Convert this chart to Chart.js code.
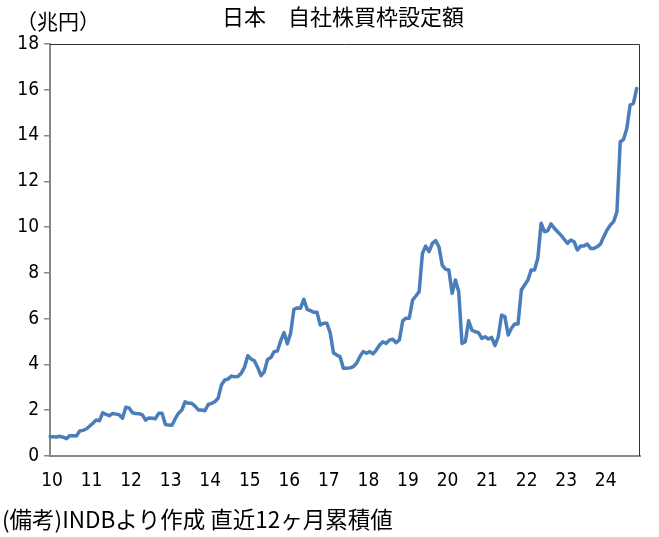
<!DOCTYPE html>
<html>
<head>
<meta charset="utf-8">
<script src="https://cdn.jsdelivr.net/npm/chart.js@4.4.0/dist/chart.umd.min.js"></script>
<style>
  html, body { margin: 0; padding: 0; background: #fff; }
  #wrap { width: 659px; height: 537px; position: relative; }
</style>
</head>
<body>
<div id="wrap"><canvas id="chartBuyback"></canvas></div>
<script>
/* ============================
   日本 自社株買枠設定額 (直近12ヶ月累積, 兆円)
   ============================ */

const titleText = "日本　自社株買枠設定額";
const unitText = "（兆円）";
const noteText = "(備考)INDBより作成 直近12ヶ月累積値";

const years = ["10", "11", "12", "13", "14", "15", "16", "17", "18", "19", "20", "21", "22", "23", "24"];
const yTicks = [0, 2, 4, 6, 8, 10, 12, 14, 16, 18];

// monthly, 2010/1 .. 2024/11
const buyback = [
  0.84, 0.84, 0.83, 0.86, 0.82, 0.76, 0.89, 0.88, 0.87, 1.09, 1.12, 1.18,
  1.30, 1.43, 1.57, 1.54, 1.89, 1.82, 1.76, 1.86, 1.83, 1.80, 1.65, 2.13,
  2.10, 1.89, 1.86, 1.85, 1.80, 1.57, 1.66, 1.65, 1.63, 1.87, 1.87, 1.38,
  1.35, 1.34, 1.63, 1.87, 2.01, 2.37, 2.30, 2.30, 2.18, 2.01, 2.01, 1.98,
  2.25, 2.30, 2.37, 2.52, 3.10, 3.32, 3.36, 3.49, 3.46, 3.47, 3.61, 3.87,
  4.38, 4.24, 4.16, 3.87, 3.51, 3.68, 4.22, 4.30, 4.56, 4.59, 5.04, 5.39,
  4.90, 5.36, 6.41, 6.47, 6.45, 6.85, 6.41, 6.35, 6.28, 6.28, 5.72, 5.80,
  5.80, 5.39, 4.51, 4.41, 4.34, 3.83, 3.83, 3.85, 3.90, 4.05, 4.34, 4.56,
  4.49, 4.56, 4.46, 4.63, 4.85, 4.99, 4.92, 5.07, 5.10, 4.95, 5.07, 5.90,
  6.02, 6.02, 6.81, 6.99, 7.18, 8.86, 9.17, 8.93, 9.29, 9.41, 9.14, 8.34,
  8.16, 8.13, 7.11, 7.69, 7.18, 4.92, 4.99, 5.91, 5.50, 5.43, 5.39, 5.14,
  5.21, 5.11, 5.18, 4.82, 5.21, 6.16, 6.09, 5.29, 5.58, 5.77, 5.77, 7.25,
  7.47, 7.69, 8.13, 8.13, 8.64, 10.17, 9.80, 9.84, 10.14, 9.95, 9.80, 9.65,
  9.47, 9.29, 9.44, 9.36, 9.00, 9.17, 9.17, 9.26, 9.07, 9.07, 9.14, 9.26,
  9.58, 9.87, 10.09, 10.24, 10.67, 13.73, 13.83, 14.31, 15.33, 15.41, 16.06
];

// one category per month, axis runs to 2024/12
const months = [];
years.forEach(y => {
  for (let m = 1; m <= 12; m++) months.push(y + "/" + m);
});

const jpFont = "'Noto Sans CJK JP', sans-serif";
const numFont = "'DejaVu Sans Condensed', 'Liberation Sans Narrow', 'Noto Sans CJK JP', sans-serif";

const textPlugin = {
  id: "chartText",
  beforeDatasetsDraw(chart) {
    const { ctx, chartArea: a } = chart;
    ctx.save();
    ctx.lineWidth = 1;
    ctx.strokeStyle = "#333";
    ctx.beginPath();
    ctx.moveTo(a.left, a.top + 0.5);
    ctx.lineTo(a.right - 0.5, a.top + 0.5);
    ctx.lineTo(a.right - 0.5, a.bottom);
    ctx.stroke();
    ctx.restore();
  },
  afterDraw(chart) {
    const ctx = chart.ctx;
    ctx.save();
    ctx.fillStyle = "#000";
    ctx.textBaseline = "middle";

    ctx.font = "22px " + jpFont;
    ctx.textAlign = "center";
    ctx.fillText(titleText, 343, 17);

    ctx.font = "21px " + jpFont;
    ctx.textAlign = "left";
    ctx.fillText(unitText, 16, 21);

    ctx.font = "22.5px " + jpFont;
    ctx.fillText(noteText, 2, 519);
    ctx.restore();
  }
};

new Chart(document.getElementById("chartBuyback"), {
  type: "line",
  data: {
    labels: months,
    datasets: [{
      label: "自社株買枠設定額",
      data: buyback,
      borderColor: "#4a7ebb",
      borderWidth: 3.5,
      pointRadius: 0,
      tension: 0,
      fill: false,
      borderJoinStyle: "round",
      borderCapStyle: "round"
    }]
  },
  options: {
    responsive: true,
    maintainAspectRatio: false,
    animation: false,
    layout: { padding: { left: 0, top: 44, right: 19, bottom: 0 } },
    plugins: {
      legend: { display: false },
      tooltip: { enabled: false },
      title: { display: false }
    },
    scales: {
      x: {
        type: "category",
        offset: false,
        grid: { display: false },
        border: { display: true, color: "#888", width: 2 },
        ticks: {
          autoSkip: false,
          maxRotation: 0,
          minRotation: 0,
          padding: 6,
          labelOffset: 2,
          color: "#000",
          font: { family: numFont, size: 19 },
          callback: (v, i) => (i % 12 === 0 ? years[i / 12] : null)
        },
        afterFit: s => { s.height = 81; }
      },
      y: {
        min: 0,
        max: 18,
        grid: { display: true, drawOnChartArea: false, drawTicks: true, tickLength: 6, color: "#888", lineWidth: 1.5 },
        border: { display: true, color: "#888", width: 2 },
        afterBuildTicks: s => { s.ticks = yTicks.map(v => ({ value: v })); },
        ticks: {
          padding: 5,
          color: "#000",
          font: { family: numFont, size: 19 }
        },
        afterFit: s => { s.width = 50; }
      }
    }
  },
  plugins: [textPlugin]
});
</script>
</body>
</html>
